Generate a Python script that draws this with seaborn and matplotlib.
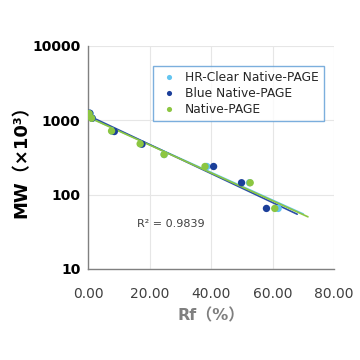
import matplotlib
matplotlib.use("Agg")
import matplotlib.pyplot as plt
import numpy as np
import pandas as pd
import seaborn as sns

# Rf (%) and MW (x10^3)
hr_rf = [0.6, 1.3, 7.8, 17.2, 24.7, 38.6, 52.5, 61.8]
hr_mw = [1230, 1060, 710, 478, 345, 238, 144, 65]
blue_rf = [0.5, 1.3, 8.5, 17.5, 40.8, 49.9, 58.0]
blue_mw = [1240, 1060, 703, 475, 238, 144, 65]
native_rf = [0.3, 1.1, 7.6, 16.9, 24.7, 38.0, 52.7, 60.7]
native_mw = [1225, 1060, 715, 480, 345, 238, 144, 65]

series_names = ["HR-Clear Native-PAGE", "Blue Native-PAGE", "Native-PAGE"]
trend_ends = [70.0, 68.0, 71.5]
colors = ["#63C5F0", "#1B3F9A", "#8CC641"]
line_colors = ["#63C5F0", "#2A4FA8", "#8CC641"]

x_ticks = [0, 20, 40, 60, 80]
y_ticks = [10, 100, 1000, 10000]
r2_text = "R² = 0.9839"

FONTS = ["DejaVu Sans", "Noto Sans CJK JP"]

df = pd.concat([
    pd.DataFrame({"rf": hr_rf, "mw": hr_mw, "series": series_names[0]}),
    pd.DataFrame({"rf": blue_rf, "mw": blue_mw, "series": series_names[1]}),
    pd.DataFrame({"rf": native_rf, "mw": native_mw, "series": series_names[2]}),
])

sns.set_style("white")
plt.rcParams["font.family"] = FONTS

fig = plt.figure(figsize=(3.6, 3.6), dpi=100)
ax = fig.add_axes([0.245, 0.253, 0.683, 0.62])

# exponential trendlines (linear fit in log space)
for name, end, lc in zip(series_names, trend_ends, line_colors):
    sub = df[df["series"] == name]
    k, b = np.polyfit(sub["rf"], np.log10(sub["mw"]), 1)
    xs = np.linspace(0, end, 50)
    trend = pd.DataFrame({"rf": xs, "mw": 10 ** (k * xs + b)})
    sns.lineplot(data=trend, x="rf", y="mw", color=lc, lw=1.2, ax=ax, zorder=2)

sns.scatterplot(data=df, x="rf", y="mw", hue="series", hue_order=series_names,
                palette=colors, s=28, edgecolor="none", ax=ax, zorder=3)

ax.set_yscale("log")
ax.set_xlim(0, 80)
ax.set_ylim(10, 10000)
ax.set_xticks(x_ticks)
ax.set_xticklabels([f"{v:.2f}" for v in x_ticks], fontsize=10, color="#404040")
ax.set_yticks(y_ticks)
ax.set_yticklabels([str(v) for v in y_ticks], fontsize=10, fontweight="bold", color="black")
ax.yaxis.set_minor_locator(matplotlib.ticker.NullLocator())

ax.grid(True, color="#E6E6E6", lw=0.8)
ax.set_axisbelow(True)
for side in ["top", "right"]:
    ax.spines[side].set_visible(False)
for side in ["left", "bottom"]:
    ax.spines[side].set_color("#808080")
    ax.spines[side].set_linewidth(1.0)
ax.tick_params(axis="both", which="major", direction="out", length=4, width=1,
               color="#808080")
ax.tick_params(axis="x", pad=9)
ax.tick_params(axis="y", pad=1.5)

ax.set_xlabel("Rf（%）", fontsize=11.5, fontweight="bold", color="#7F7F7F", labelpad=5)
ax.set_ylabel("MW（×10³）", fontsize=13, fontweight="bold", color="black", labelpad=1)

ax.text(15.8, 40.5, r2_text, fontsize=8, color="#404040", va="center", ha="left")

leg = ax.legend(loc="upper left", bbox_to_anchor=(0.264, 0.908), frameon=True,
                fancybox=False, fontsize=8.8, handletextpad=0.4, borderpad=0.4,
                labelspacing=0.25, handlelength=1.8, markerscale=0.7, borderaxespad=0)
leg.get_frame().set_edgecolor("#5B9BD5")
leg.get_frame().set_linewidth(1.0)

fig.savefig("out.png", dpi=100)
